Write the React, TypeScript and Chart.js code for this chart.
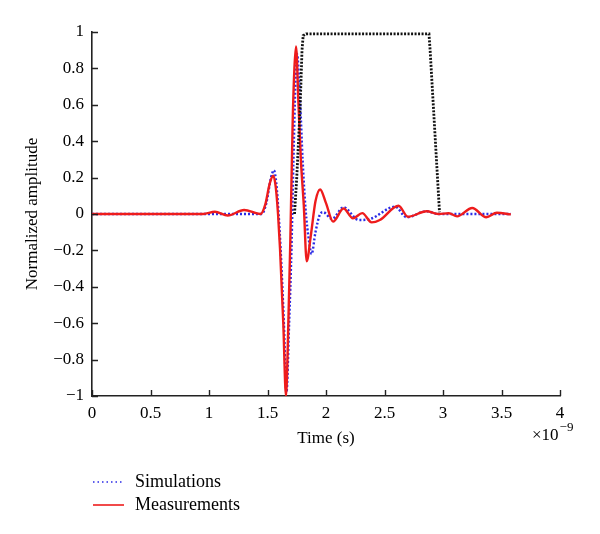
import React, { useEffect, useRef } from "react";
import { Chart, registerables } from "chart.js";

Chart.register(...registerables);

// Time in units of 1e-9 s
const measX = [0, 0.5, 0.95, 1.05, 1.16, 1.3, 1.44, 1.48, 1.52, 1.55, 1.57, 1.59, 1.607, 1.635, 1.658, 1.68, 1.695, 1.715, 1.73, 1.744, 1.765, 1.785, 1.81, 1.835, 1.87, 1.91, 1.95, 2.0, 2.06, 2.15, 2.23, 2.31, 2.39, 2.46, 2.62, 2.70, 2.86, 2.96, 3.05, 3.12, 3.25, 3.37, 3.46, 3.58];
const measY = [0, 0, 0, 0.012, -0.008, 0.022, 0, 0.05, 0.17, 0.21, 0.15, 0.0, -0.19, -0.6, -1.0, -0.55, -0.15, 0.5, 0.8, 0.92, 0.6, 0.3, 0.05, -0.26, -0.12, 0.07, 0.135, 0.06, -0.042, 0.03, -0.024, 0.005, -0.046, -0.033, 0.045, -0.015, 0.015, 0, 0.004, -0.013, 0.033, -0.018, 0.007, -0.002];

const simX = [0, 1.0, 1.45, 1.49, 1.53, 1.555, 1.575, 1.595, 1.612, 1.64, 1.662, 1.685, 1.705, 1.722, 1.738, 1.752, 1.78, 1.80, 1.825, 1.855, 1.877, 1.91, 1.95, 1.976, 2.05, 2.15, 2.28, 2.38, 2.59, 2.69, 2.86, 2.96, 3.1, 3.3, 3.58];
const simY = [0, 0, 0, 0.06, 0.2, 0.24, 0.17, 0.0, -0.19, -0.6, -0.98, -0.6, -0.19, 0.3, 0.7, 0.88, 0.6, 0.3, 0.03, -0.15, -0.22, -0.1, 0.0, 0.01, -0.027, 0.037, -0.033, -0.027, 0.04, -0.018, 0.015, 0, 0, 0, 0];

const pulseX = [1.731, 1.75, 1.778, 1.795, 1.805, 1.83, 2.88, 2.89, 2.97];
const pulseY = [0.0, 0.2, 0.57, 0.9, 0.98, 0.99, 0.99, 0.9, 0.01];

const xTicks = [0, 0.5, 1, 1.5, 2, 2.5, 3, 3.5, 4];
const yTicks = [-1, -0.8, -0.6, -0.4, -0.2, 0, 0.2, 0.4, 0.6, 0.8, 1];

const seriesNames = ["Simulations", "Measurements"];
const xTitle = "Time (s)";
const yTitle = "Normalized amplitude";

const FONT = "'Liberation Serif', 'DejaVu Serif', serif";
const RED = "#ee1c1c";
const BLUE = "#2a2ae6";
const AXIS = "#222";

const zip = (xs: number[], ys: number[]) => xs.map((x, i) => ({ x, y: ys[i] }));
const fmt = (v: number) => {
  const r = Math.round(v * 10) / 10;
  const s = String(Math.abs(r));
  return r < 0 ? "\u2212" + s : s;
};

const decorPlugin = {
  id: "decor",
  afterDraw(chart: any) {
    const ctx = chart.ctx;
    const { left, right, top, bottom } = chart.chartArea;
    const xs = chart.scales.x;
    const ys = chart.scales.y;
    ctx.save();
    // inward ticks
    ctx.strokeStyle = AXIS;
    ctx.lineWidth = 1.4;
    ctx.beginPath();
    xTicks.forEach((t) => {
      const px = Math.round(xs.getPixelForValue(t)) + 0.5;
      ctx.moveTo(px, bottom);
      ctx.lineTo(px, bottom - 6);
    });
    yTicks.forEach((t) => {
      const py = Math.round(ys.getPixelForValue(t)) + 0.5;
      ctx.moveTo(left, py);
      ctx.lineTo(left + 6, py);
    });
    ctx.stroke();

    ctx.fillStyle = "#000";
    // x title
    ctx.font = `17px ${FONT}`;
    ctx.textAlign = "center";
    ctx.textBaseline = "middle";
    ctx.fillText(xTitle, (left + right) / 2, 439);
    // y title
    ctx.save();
    ctx.translate(33, (top + bottom) / 2);
    ctx.rotate(-Math.PI / 2);
    ctx.fillText(yTitle, 0, 0);
    ctx.restore();
    // exponent
    ctx.textAlign = "left";
    ctx.textBaseline = "alphabetic";
    ctx.font = `17px ${FONT}`;
    ctx.fillText("\u00d710", 532, 440);
    const w = ctx.measureText("\u00d710").width;
    ctx.font = `13px ${FONT}`;
    ctx.fillText("\u22129", 532 + w + 1, 431);

    // legend
    const items = [
      { name: seriesNames[0], color: BLUE, dash: [1.5, 3] },
      { name: seriesNames[1], color: RED, dash: [] as number[] },
    ];
    items.forEach((it, i) => {
      const y = 482 + i * 23;
      ctx.strokeStyle = it.color;
      ctx.lineWidth = 1.6;
      ctx.setLineDash(it.dash);
      ctx.beginPath();
      ctx.moveTo(93, y);
      ctx.lineTo(124, y);
      ctx.stroke();
      ctx.setLineDash([]);
      ctx.fillStyle = "#000";
      ctx.font = `18px ${FONT}`;
      ctx.textBaseline = "middle";
      ctx.fillText(it.name, 135, y);
    });
    ctx.restore();
  },
};

export default function App() {
  const ref = useRef<HTMLCanvasElement>(null);
  useEffect(() => {
    if (!ref.current) return;
    const chart = new Chart(ref.current, {
      type: "scatter",
      data: {
        datasets: [
          {
            label: "pulse",
            data: zip(pulseX, pulseY),
            showLine: true,
            borderColor: "#111",
            borderWidth: 2.8,
            borderDash: [2, 1.5],
            pointRadius: 0,
            tension: 0,
          },
          {
            label: seriesNames[1],
            data: zip(measX, measY),
            showLine: true,
            borderColor: RED,
            borderWidth: 2.4,
            pointRadius: 0,
            cubicInterpolationMode: "monotone",
          },
          {
            label: seriesNames[0],
            data: zip(simX, simY),
            showLine: true,
            borderColor: BLUE,
            borderWidth: 2.4,
            borderDash: [2, 2],
            pointRadius: 0,
            cubicInterpolationMode: "monotone",
          },
        ],
      },
      options: {
        responsive: false,
        animation: false,
        devicePixelRatio: 1,
        layout: { padding: { top: 32, right: 40, left: 0, bottom: 0 } },
        plugins: { legend: { display: false }, tooltip: { enabled: false } },
        scales: {
          x: {
            type: "linear",
            min: 0,
            max: 4,
            afterFit: (s: any) => {
              s.height = 138;
            },
            afterBuildTicks: (s: any) => {
              s.ticks = xTicks.map((v) => ({ value: v }));
            },
            grid: { display: false, drawTicks: false },
            border: { display: true, color: AXIS, width: 1.6 },
            ticks: {
              padding: 7,
              color: "#000",
              font: { family: FONT, size: 17 },
              maxRotation: 0,
              callback: (v: any) => fmt(Number(v)),
            },
          },
          y: {
            type: "linear",
            min: -1,
            max: 1,
            afterFit: (s: any) => {
              s.width = 92;
            },
            afterBuildTicks: (s: any) => {
              s.ticks = yTicks.map((v) => ({ value: v }));
            },
            grid: { display: false, drawTicks: false },
            border: { display: true, color: AXIS, width: 1.6 },
            ticks: {
              padding: 8,
              color: "#000",
              font: { family: FONT, size: 17 },
              callback: (v: any) => fmt(Number(v)),
            },
          },
        },
      },
      plugins: [decorPlugin],
    } as any);
    return () => chart.destroy();
  }, []);
  return (
    <div style={{ position: "fixed", left: 0, top: 0, width: 600, height: 534, background: "#fff" }}>
      <canvas ref={ref} width={600} height={534} />
    </div>
  );
}
